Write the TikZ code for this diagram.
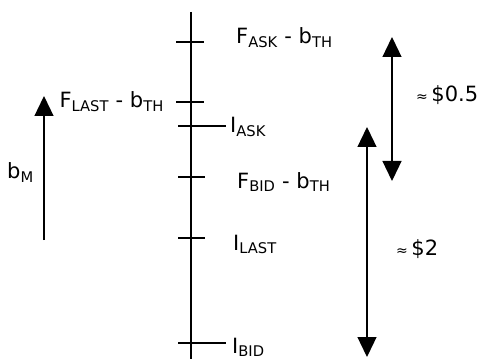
\documentclass[tikz,border=0pt]{standalone}
\usepackage{fontspec}
\setmainfont{DejaVu Sans}
\usetikzlibrary{positioning,arrows.meta,calc}

\begin{document}
\begin{tikzpicture}[x=1pt, y=1pt,
    axis/.style={draw=black, line width=1.8pt},
    tick/.style={draw=black, line width=1.4pt},
    arr/.style={draw=black, line width=1.3pt, -{Triangle[length=20pt, width=19pt]}},
    darr/.style={draw=black, line width=1.3pt, {Triangle[length=20pt, width=19pt]}-{Triangle[length=20pt, width=19pt]}},
    lab/.style={font=\fontsize{21}{24}\selectfont, inner sep=0pt, anchor=base west},
    approx/.style={lab},
  ]
  \useasboundingbox (0,0) rectangle (481,359);

  % price axis
  \coordinate (axtop) at (191,347);
  \coordinate (axbot) at (191,0);
  \draw[axis] (axtop) -- (axbot);

  % ticks on the axis
  \coordinate (fask-l) at (176,317);  \coordinate (fask-r) at (204,317);
  \coordinate (flast-l) at (176,257); \coordinate (flast-r) at (204,257);
  \coordinate (iask-l) at (178,233);  \coordinate (iask-r) at (226,233);
  \coordinate (fbid-l) at (178,182);  \coordinate (fbid-r) at (205,182);
  \coordinate (ilast-l) at (178,121); \coordinate (ilast-r) at (205,121);
  \coordinate (ibid-l) at (178,16);   \coordinate (ibid-r) at (226,16);
  \foreach \t in {fask,flast,iask,fbid,ilast,ibid}
    \draw[tick] (\t-l) -- (\t-r);

  % labels
  \node[lab] (faskl) at (236,315) {F\textsubscript{ASK} - b\textsubscript{TH}};
  \node[lab, anchor=base east] (flastl) at (164,251) {F\textsubscript{LAST} - b\textsubscript{TH}};
  \node[lab] (iaskl) at (230,226) {I\textsubscript{ASK}};
  \node[lab] (fbidl) at (237,171) {F\textsubscript{BID} - b\textsubscript{TH}};
  \node[lab] (ilastl) at (233,109) {I\textsubscript{LAST}};
  \node[lab] (ibidl) at (232,6) {I\textsubscript{BID}};

  % move of the bid
  \coordinate (bm-bot) at (44,119);
  \coordinate (bm-top) at (44,263);
  \draw[arr] (bm-bot) -- (bm-top);
  \node[lab] (bml) at (7,180) {b\textsubscript{M}};

  % spreads
  \coordinate (s1-top) at (392,322);
  \coordinate (s1-bot) at (392,178);
  \draw[darr] (s1-bot) -- (s1-top);
  \node[approx] (s1l) at (416,257) {{\fontsize{14}{16}\selectfont ≈}\,\$0.5};

  \coordinate (s2-top) at (367,232);
  \coordinate (s2-bot) at (367,2);
  \draw[darr] (s2-bot) -- (s2-top);
  \node[approx] (s2l) at (396,104) {{\fontsize{14}{16}\selectfont ≈}\,\$2};
\end{tikzpicture}
\end{document}
